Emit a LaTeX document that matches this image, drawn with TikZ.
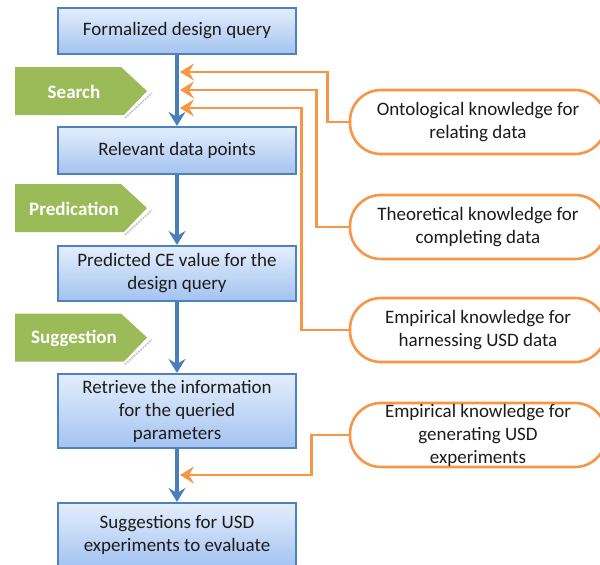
\documentclass[tikz,border=0pt]{standalone}
\usepackage{fontspec}
\setmainfont{Carlito}
\usetikzlibrary{arrows.meta}
\definecolor{boxtop}{HTML}{E4EEFC}
\definecolor{boxbot}{HTML}{A3C3F0}
\definecolor{boxline}{HTML}{4F81BD}
\definecolor{flowblue}{HTML}{4A7EBB}
\definecolor{taggreen}{HTML}{9BBB59}
\definecolor{knorange}{HTML}{F79646}
\definecolor{inkgray}{HTML}{1C1C1C}
\tikzset{
  stepbox/.style={draw=boxline, line width=2.2pt, top color=boxtop, bottom color=boxbot,
    minimum width=238pt, inner sep=2pt, align=center, text=inkgray,
    font=\fontsize{19}{23}\selectfont},
  flow/.style={draw=flowblue, line width=4.5pt,
    -{Stealth[length=14pt, width=17pt, inset=5pt]}},
  tagshape/.style={fill=taggreen},
  tagtext/.style={text=white, font=\fontsize{19}{22}\selectfont\bfseries},
  tagshade/.style={draw=gray!45, line width=1.6pt, dash pattern=on 2pt off 1pt},
  kbox/.style={draw=knorange, line width=2.6pt, fill=white, rounded corners=31pt,
    minimum width=256pt, minimum height=64pt},
  ktext/.style={align=center, text=inkgray, font=\fontsize{19}{23}\selectfont},
  feed/.style={draw=knorange, line width=2.6pt,
    -{Stealth[length=14pt, width=17pt, inset=5pt]}}
}
\begin{document}
\begin{tikzpicture}[x=1pt, y=-1pt]
\useasboundingbox (0,0) rectangle (600,565);
\clip (0,0) rectangle (600,565);

% process steps
\node[stepbox, minimum height=46pt] (q)   at (177,31)    {Formalized design query};
\node[stepbox, minimum height=47pt] (rel) at (177,150.5) {Relevant data points};
\node[stepbox, minimum height=55pt] (ce)  at (177,273.5) {Predicted CE value for the\\design query};
\node[stepbox, minimum height=74pt] (ret) at (177,411)   {Retrieve the information\\for the queried\\parameters};
\node[stepbox, minimum height=64pt] (sug) at (177,535)   {Suggestions for USD\\experiments to evaluate};

% stage tags with a faint shadow along the lower slant
\foreach \y/\n/\t in {67/search/Search, 184/pred/Predication, 313.5/sugg/Suggestion}{
  \draw[tagshade] (125,\y+51) -- (152,\y+26);
  \fill[tagshape] (15,\y) -- (121,\y) -- (147,\y+24) -- (124,\y+48) -- (15,\y+48) -- cycle;
  \node[tagtext] (\n) at (74,\y+24.5) {\t};
}

% main flow
\draw[flow] (q.south)   -- (rel.north);
\draw[flow] (rel.south) -- (ce.north);
\draw[flow] (ce.south)  -- (ret.north);
\draw[flow] (ret.south) -- (sug.north);

% knowledge sources
\node[kbox] (k1) at (478,122) {};
\node[ktext] (k1t) at (k1) {Ontological knowledge for\\relating data};
\node[kbox] (k2) at (478,227) {};
\node[ktext] (k2t) at (k2) {Theoretical knowledge for\\completing data};
\node[kbox] (k3) at (478,330) {};
\node[ktext] (k3t) at (k3) {Empirical knowledge for\\harnessing USD data};
\node[kbox] (k4) at (478,435) {};
\node[ktext] (k4t) at (k4) {Empirical knowledge for\\generating USD\\experiments};

% entry points on the main flow
\coordinate (m1) at (180,72);
\coordinate (m2) at (180,90);
\coordinate (m3) at (180,108);
\coordinate (m4) at (180,475);

\draw[feed] (k1.west) -- ++(-21,0) |- (m1);
\draw[feed] (k2.west) -- ++(-32,0) |- (m2);
\draw[feed] (k3.west) -- ++(-47,0) |- (m3);
\draw[feed] (k4.west) -- ++(-37,0) |- (m4);
\end{tikzpicture}
\end{document}
